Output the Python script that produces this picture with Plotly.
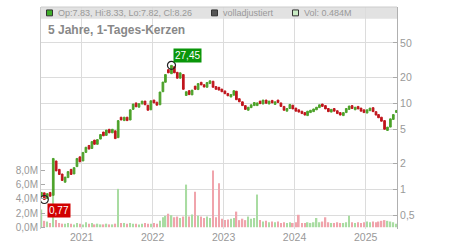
import math
import plotly.graph_objects as go

# ---------------- data ----------------
dates = [
    "2020-06-08", "2020-06-23", "2020-07-08", "2020-07-23", "2020-08-08", "2020-08-23",
    "2020-09-08", "2020-09-23", "2020-10-08", "2020-10-23", "2020-11-08", "2020-11-23",
    "2020-12-08", "2020-12-23", "2021-01-08", "2021-01-23", "2021-02-08", "2021-02-23",
    "2021-03-08", "2021-03-23", "2021-04-08", "2021-04-23", "2021-05-08", "2021-05-23",
    "2021-06-08", "2021-06-23", "2021-07-08", "2021-07-23", "2021-08-08", "2021-08-23",
    "2021-09-08", "2021-09-23", "2021-10-08", "2021-10-23", "2021-11-08", "2021-11-23",
    "2021-12-08", "2021-12-23", "2022-01-08", "2022-01-23", "2022-02-08", "2022-02-23",
    "2022-03-08", "2022-03-23", "2022-04-08", "2022-04-23", "2022-05-08", "2022-05-23",
    "2022-06-08", "2022-06-23", "2022-07-08", "2022-07-23", "2022-08-08", "2022-08-23",
    "2022-09-08", "2022-09-23", "2022-10-08", "2022-10-23", "2022-11-08", "2022-11-23",
    "2022-12-08", "2022-12-23", "2023-01-08", "2023-01-23", "2023-02-08", "2023-02-23",
    "2023-03-08", "2023-03-23", "2023-04-08", "2023-04-23", "2023-05-08", "2023-05-23",
    "2023-06-08", "2023-06-23", "2023-07-08", "2023-07-23", "2023-08-08", "2023-08-23",
    "2023-09-08", "2023-09-23", "2023-10-08", "2023-10-23", "2023-11-08", "2023-11-23",
    "2023-12-08", "2023-12-23", "2024-01-08", "2024-01-23", "2024-02-08", "2024-02-23",
    "2024-03-08", "2024-03-23", "2024-04-08", "2024-04-23", "2024-05-08", "2024-05-23",
    "2024-06-08", "2024-06-23", "2024-07-08", "2024-07-23", "2024-08-08", "2024-08-23",
    "2024-09-08", "2024-09-23", "2024-10-08", "2024-10-23", "2024-11-08", "2024-11-23",
    "2024-12-08", "2024-12-23", "2025-01-08", "2025-01-23", "2025-02-08", "2025-02-23",
    "2025-03-08", "2025-03-23", "2025-04-08", "2025-04-23", "2025-05-08", "2025-05-23",
    "2025-06-08",
]

opens = [
    0.84, 0.92, 0.79, 0.93, 0.86, 2.15, 1.72, 1.52, 1.22, 1.38, 1.72, 1.52,
    1.85, 2.40, 2.15, 2.70, 3.25, 3.00, 3.75, 3.35, 3.85, 4.65, 4.25, 5.00,
    4.55, 4.80, 4.00, 6.90, 6.30, 6.90, 6.40, 8.50, 10.1, 9.00, 9.80, 10.6,
    9.50, 8.40, 10.9, 10.3, 9.60, 13.6, 17.5, 24.5, 22.0, 26.5, 22.8, 19.5,
    21.5, 12.3, 14.0, 12.5, 15.8, 14.4, 17.5, 16.4, 15.3, 16.9, 18.0, 15.6,
    15.3, 14.6, 13.9, 13.0, 11.8, 12.4, 13.8, 11.3, 10.4, 9.40, 8.30, 8.90,
    9.40, 9.40, 10.6, 9.80, 10.9, 9.80, 10.8, 9.70, 10.9, 10.1, 9.20, 8.10,
    8.70, 9.50, 8.80, 8.40, 8.10, 7.80, 7.20, 7.80, 8.00, 8.40, 8.90, 9.80,
    9.40, 8.70, 7.90, 8.70, 8.20, 7.80, 7.20, 7.80, 8.50, 9.40, 8.40, 9.20,
    8.80, 8.40, 7.70, 8.20, 8.90, 8.00, 7.40, 6.90, 6.30, 4.85, 5.30, 6.50,
    7.83,
]

closes = [
    0.93, 0.77, 0.90, 0.84, 2.30, 1.65, 1.50, 1.28, 1.40, 1.62, 1.50, 1.80,
    2.30, 2.10, 2.70, 3.10, 2.95, 3.60, 3.35, 3.80, 4.35, 4.20, 4.90, 4.55,
    5.00, 3.90, 6.30, 6.40, 6.90, 6.30, 8.40, 9.80, 9.10, 9.90, 10.6, 9.60,
    8.30, 10.7, 10.1, 9.50, 13.5, 17.6, 21.5, 22.5, 27.45, 22.5, 19.5, 22.5,
    14.5, 13.6, 12.6, 14.2, 14.5, 16.9, 16.3, 15.4, 17.4, 18.2, 15.3, 14.5,
    14.2, 13.6, 12.9, 12.2, 12.6, 14.0, 11.0, 10.4, 9.40, 8.50, 9.00, 9.60,
    10.2, 10.1, 9.90, 10.9, 10.0, 10.6, 10.1, 10.4, 10.2, 9.20, 8.30, 8.70,
    9.70, 8.60, 8.10, 7.90, 7.60, 7.30, 8.10, 8.30, 8.60, 9.00, 9.60, 9.20,
    8.60, 8.00, 8.50, 8.10, 7.60, 7.30, 7.80, 8.70, 9.30, 8.70, 9.00, 8.60,
    8.10, 7.80, 8.40, 8.80, 8.00, 7.30, 6.80, 6.20, 5.00, 5.30, 6.60, 7.40,
    8.26,
]

volumes_m = [
    2.5, 0.9, 0.8, 0.6, 4.5, 1.0, 0.6, 0.5, 0.5, 0.6, 0.5, 0.4,
    0.6, 0.5, 0.4, 0.7, 0.5, 0.6, 0.4, 0.5, 0.4, 0.4, 0.5, 0.4,
    0.4, 0.5, 5.4, 0.6, 0.6, 0.5, 0.6, 0.5, 0.5, 0.4, 0.5, 0.6,
    0.5, 0.5, 0.6, 0.5, 0.9, 1.4, 1.6, 1.9, 1.7, 1.4, 1.5, 1.3,
    1.5, 6.0, 1.5, 1.8, 5.0, 1.6, 1.5, 1.3, 1.5, 1.3, 8.0, 1.4,
    6.2, 1.2, 1.0, 1.1, 1.2, 1.3, 2.2, 1.0, 1.2, 1.0, 1.5, 1.2,
    1.3, 4.6, 1.0, 0.8, 0.9, 0.7, 0.8, 0.7, 0.8, 0.6, 0.7, 0.6,
    0.7, 0.6, 0.7, 1.75, 0.6, 0.6, 0.7, 0.6, 0.7, 1.3, 0.7, 0.8,
    1.4, 0.7, 0.6, 0.6, 0.7, 0.6, 0.6, 0.7, 1.6, 0.7, 0.6, 0.7,
    0.6, 0.7, 0.8, 0.7, 0.8, 0.7, 0.8, 0.9, 1.0, 0.9, 0.8, 0.7,
    0.484,
]

last_high = 8.33
last_low = 7.82
last_volume_m = 0.484

year_ticks = ["2021-01-01", "2022-01-01", "2023-01-01", "2024-01-01", "2025-01-01"]
year_labels = ["2021", "2022", "2023", "2024", "2025"]
price_ticks = [0.5, 1, 2, 5, 10, 20, 50]
price_labels = ["0,5", "1", "2", "5", "10", "20", "50"]
vol_ticks = [0, 2, 4, 6, 8]
vol_labels = ["0,0M", "2,0M", "4,0M", "6,0M", "8,0M"]

title_text = "5 Jahre, 1-Tages-Kerzen"

# ---------------- derived ----------------
highs = [max(o, c) for o, c in zip(opens, closes)]
lows = [min(o, c) for o, c in zip(opens, closes)]
highs[-1] = last_high
lows[-1] = last_low

i_max = max(range(len(highs)), key=lambda i: highs[i])
i_min = min(range(len(lows)), key=lambda i: lows[i])

UP = "#4ca22a"
DOWN = "#c0151c"
VUP = "#a9dca2"
VDOWN = "#f0a4ac"
vol_colors = [VUP if c >= o else VDOWN for o, c in zip(opens, closes)]


def fmt(v):
    return f"{v:.2f}".replace(".", ",")


# ---------------- geometry helpers (pixels -> paper) ----------------
L, R, T, B = 41, 397, 7, 233
W, H = R - L, B - T


def px(x):
    return (x - L) / W


def py(y):
    return (B - y) / H


GRAY = "#999999"
FONT = "Liberation Sans, Arial, sans-serif"

fig = go.Figure()

fig.add_trace(go.Bar(
    x=dates, y=volumes_m, marker=dict(color=vol_colors, line=dict(width=0)),
    yaxis="y", xaxis="x", showlegend=False, hoverinfo="skip",
))

fig.add_trace(go.Candlestick(
    x=dates, open=opens, high=highs, low=lows, close=closes,
    increasing=dict(line=dict(color=UP, width=1), fillcolor=UP),
    decreasing=dict(line=dict(color=DOWN, width=1), fillcolor=DOWN),
    whiskerwidth=0, yaxis="y2", xaxis="x", showlegend=False,
))

fig.add_trace(go.Scatter(
    x=[dates[i_max], dates[i_min]], y=[highs[i_max], lows[i_min]],
    mode="markers", yaxis="y2",
    marker=dict(symbol="circle-open", size=8, color="#222222", line=dict(width=1.2)),
    showlegend=False, hoverinfo="skip",
))

shapes = [
    dict(type="rect", xref="paper", yref="paper", x0=0, x1=1, y0=py(19), y1=py(7),
         fillcolor="#e2e2e2", line=dict(width=0), layer="below"),
    dict(type="line", xref="paper", yref="paper", x0=0, x1=1, y0=py(7), y1=py(7),
         line=dict(color="#cccccc", width=1)),
    dict(type="rect", xref="paper", yref="paper", x0=px(46.5), x1=px(52.5), y0=py(16), y1=py(10),
         fillcolor="#3fae2a", line=dict(color="#333333", width=1)),
    dict(type="rect", xref="paper", yref="paper", x0=px(211.5), x1=px(217.5), y0=py(16), y1=py(10),
         fillcolor="#555555", line=dict(color="#333333", width=1)),
    dict(type="rect", xref="paper", yref="paper", x0=px(292.5), x1=px(298.5), y0=py(16), y1=py(10),
         fillcolor="#c9ecc4", line=dict(color="#333333", width=1)),
]

legend_font = dict(family=FONT, size=9, color=GRAY)
annotations = [
    dict(xref="paper", yref="paper", x=px(56), y=py(13.5), xanchor="left", yanchor="middle",
         text=f"Op:{opens[-1]:.2f}, Hi:{highs[-1]:.2f}, Lo:{lows[-1]:.2f}, Cl:{closes[-1]:.2f}",
         showarrow=False, font=legend_font),
    dict(xref="paper", yref="paper", x=px(221), y=py(13.5), xanchor="left", yanchor="middle",
         text="volladjustiert", showarrow=False, font=legend_font),
    dict(xref="paper", yref="paper", x=px(302), y=py(13.5), xanchor="left", yanchor="middle",
         text=f"Vol: {last_volume_m:.3f}M", showarrow=False, font=legend_font),
    dict(xref="paper", yref="paper", x=px(46), y=py(30), xanchor="left", yanchor="middle",
         text=f"<b>{title_text}</b>", showarrow=False,
         font=dict(family=FONT, size=12, color="#888888")),
    dict(x=dates[i_max], y=math.log10(highs[i_max]), xref="x", yref="y2",
         yanchor="bottom", xanchor="left", xshift=2, yshift=2,
         text=fmt(highs[i_max]), showarrow=False, bgcolor="#0a960a",
         borderpad=1, font=dict(family=FONT, size=10, color="white")),
    dict(x=dates[i_min], y=math.log10(lows[i_min]), xref="x", yref="y2",
         yanchor="top", xanchor="left", xshift=3, yshift=-3,
         text=fmt(lows[i_min]), showarrow=False, bgcolor="#d10000",
         borderpad=1, font=dict(family=FONT, size=10, color="white")),
]

fig.update_layout(
    width=450, height=250,
    margin=dict(l=L, r=450 - R, t=T, b=250 - B, pad=0),
    paper_bgcolor="white", plot_bgcolor="white",
    font=dict(family=FONT, size=10, color=GRAY),
    bargap=0.35,
    boxgap=0.05,
    showlegend=False,
    shapes=shapes,
    annotations=annotations,
    xaxis=dict(
        type="date", range=["2020-06-06", "2025-06-11"],
        tickvals=year_ticks, ticktext=year_labels,
        showgrid=True, gridcolor="#dcdcdc", gridwidth=1,
        ticks="", showline=False, zeroline=False,
        rangeslider=dict(visible=False),
        tickfont=dict(family=FONT, size=10.5, color=GRAY),
    ),
    yaxis=dict(
        range=[-0.25, 31], tickvals=vol_ticks, ticktext=vol_labels,
        showgrid=False, zeroline=False, ticks="inside", ticklen=4, tickcolor="#aaaaaa",
        showline=True, linecolor="#cccccc", linewidth=1,
        tickfont=dict(family=FONT, size=10, color=GRAY),
    ),
    yaxis2=dict(
        type="log", range=[math.log10(0.351), math.log10(130)],
        overlaying="y", side="right",
        tickvals=price_ticks, ticktext=price_labels,
        showgrid=True, gridcolor="#dcdcdc", gridwidth=1, zeroline=False,
        ticks="inside", ticklen=4, tickcolor="#aaaaaa",
        showline=True, linecolor="#b0b0b0", linewidth=1,
        tickfont=dict(family=FONT, size=10.5, color=GRAY),
    ),
)

fig.write_html("out.html")
